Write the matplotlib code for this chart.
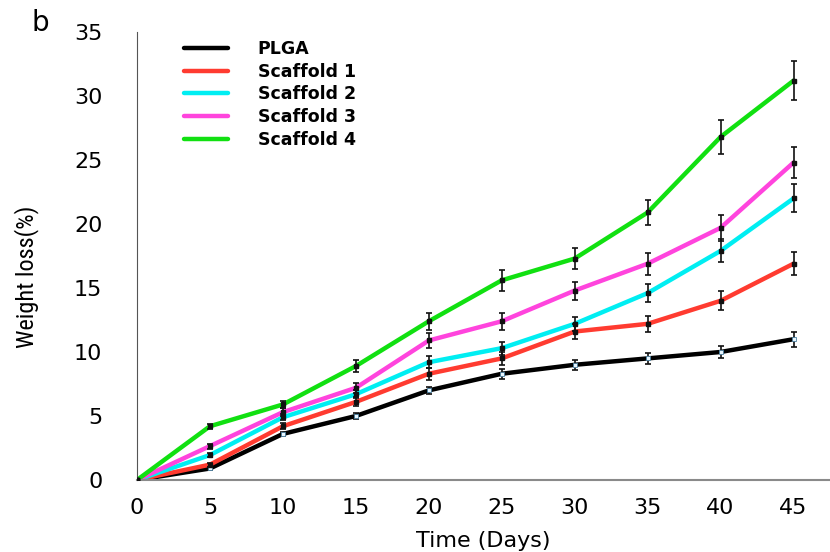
import matplotlib
matplotlib.use("Agg")
import matplotlib.pyplot as plt
from matplotlib import font_manager

days = [0, 5, 10, 15, 20, 25, 30, 35, 40, 45]
series_names = ["PLGA", "Scaffold 1", "Scaffold 2", "Scaffold 3", "Scaffold 4"]
plga = [0, 0.9, 3.6, 5.0, 7.0, 8.3, 9.0, 9.5, 10.0, 11.0]
scaffold1 = [0, 1.2, 4.2, 6.1, 8.3, 9.5, 11.6, 12.2, 14.0, 16.9]
scaffold2 = [0, 1.95, 4.9, 6.7, 9.2, 10.3, 12.2, 14.6, 17.9, 22.0]
scaffold3 = [0, 2.65, 5.3, 7.2, 10.9, 12.4, 14.8, 16.9, 19.7, 24.8]
scaffold4 = [0, 4.2, 5.9, 8.9, 12.4, 15.6, 17.3, 20.9, 26.8, 31.2]
plga_err = [0, 0.1, 0.15, 0.2, 0.3, 0.4, 0.4, 0.45, 0.45, 0.6]
scaffold1_err = [0, 0.15, 0.25, 0.35, 0.45, 0.5, 0.55, 0.6, 0.75, 0.9]
scaffold2_err = [0, 0.15, 0.25, 0.3, 0.45, 0.5, 0.55, 0.7, 0.9, 1.1]
scaffold3_err = [0, 0.2, 0.3, 0.4, 0.55, 0.65, 0.7, 0.85, 1.0, 1.24]
scaffold4_err = [0, 0.2, 0.3, 0.47, 0.68, 0.8, 0.85, 1.0, 1.35, 1.5]
colors = ["#000000", "#ff3b30", "#00eef2", "#ff44dd", "#11e011"]
x_ticks = [0, 5, 10, 15, 20, 25, 30, 35, 40, 45]
y_ticks = [0, 5, 10, 15, 20, 25, 30, 35]

values = [plga, scaffold1, scaffold2, scaffold3, scaffold4]
errors = [plga_err, scaffold1_err, scaffold2_err, scaffold3_err, scaffold4_err]

# pick a condensed font for the y label if one exists
narrow_font = None
narrow_stretch = "normal"
for f in font_manager.fontManager.ttflist:
    if f.name in ("Liberation Sans Narrow", "Roboto Condensed", "Open Sans Condensed"):
        narrow_font = f.name
        break
if narrow_font is None:
    for f in font_manager.fontManager.ttflist:
        if f.name == "DejaVu Sans" and str(f.stretch) in ("condensed", "semi-condensed"):
            narrow_font = "DejaVu Sans"
            narrow_stretch = "condensed"
            break
if narrow_font is None:
    narrow_font = "DejaVu Sans"
    ylab_size = 14
else:
    ylab_size = 17.5

fig = plt.figure(figsize=(8.3, 5.52), dpi=100)
ax = fig.add_axes([137/830, 1-480/552, 1-137/830, (480-32)/552])

handles = []
for v, e, c, n in zip(values, errors, colors, series_names):
    ln, = ax.plot(days, v, color=c, lw=3.2, label=n, zorder=2, solid_capstyle="round")
    handles.append(ln)
    ax.errorbar(days, v, yerr=e, fmt="none", ecolor="#111111", elinewidth=1.2,
                capsize=2.5, capthick=1.2, zorder=3)
    if n == "PLGA":
        ax.plot(days, v, "s", ms=3, mfc="#e8f6ff", mec="#4a7fa0", mew=0.6, zorder=4)
    else:
        ax.plot(days, v, "s", ms=2.5, mfc="#111111", mec="#111111", zorder=4)

ax.set_xlim(0, 47.5)
ax.set_ylim(0, 35)
ax.set_xticks(x_ticks)
ax.set_yticks(y_ticks)
ax.tick_params(length=0, labelsize=16)
ax.tick_params(axis="x", pad=13)
ax.tick_params(axis="y", pad=25)
for s in ["top", "right"]:
    ax.spines[s].set_visible(False)
ax.spines["left"].set_color("#555555")
ax.spines["left"].set_linewidth(0.8)
ax.spines["bottom"].set_color("#8a8a8a")
ax.spines["bottom"].set_linewidth(1.5)
ax.set_xlabel("Time (Days)", fontsize=16, labelpad=9)
fig.text(27/830, 1-277/552, "Weight loss(%)", rotation=90, ha="center", va="center",
         fontsize=ylab_size, family=narrow_font, fontstretch=narrow_stretch)
fig.text(40/830, 1-23/552, "b", fontsize=20, ha="center", va="center")

leg = ax.legend(handles=handles, loc="upper left", bbox_to_anchor=(184/830, 1-40/552),
                bbox_transform=fig.transFigure, frameon=False, borderpad=0,
                borderaxespad=0, prop={"weight": "bold", "size": 12.5},
                handlelength=2.53, handletextpad=1.72, labelspacing=0.27)

fig.savefig("out.png", dpi=100)
